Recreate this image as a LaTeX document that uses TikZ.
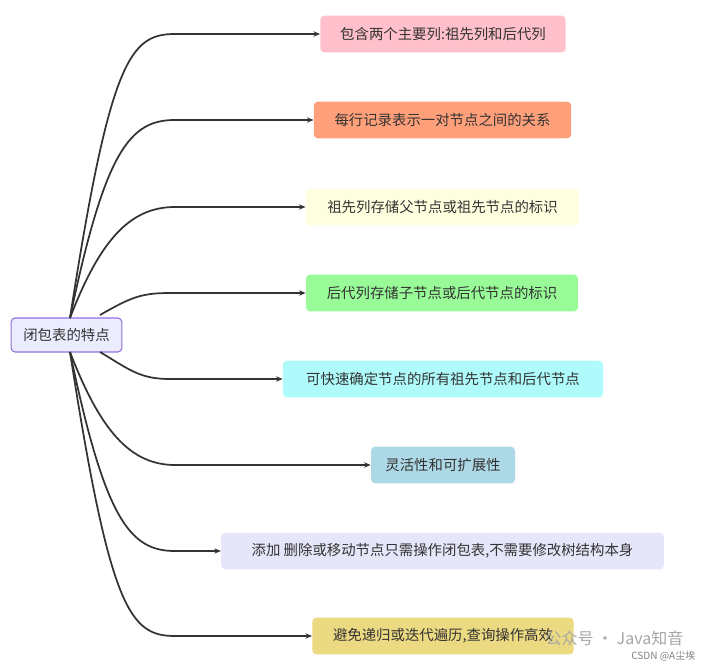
\documentclass[tikz,border=0pt]{standalone}
\usepackage{fontspec}
\setmainfont{Noto Sans CJK SC}
\usetikzlibrary{arrows.meta}
\definecolor{txt}{HTML}{333333}
\begin{document}
\begin{tikzpicture}[x=0.75pt,y=-0.75pt,
  box/.style={draw=none,rounded corners=3pt,minimum height=27.5pt,inner xsep=6pt,text=txt,font=\fontsize{10.8pt}{12pt}\selectfont,anchor=center},
  link/.style={draw=txt,line width=1.3pt,-{Stealth[length=5pt,width=4pt]}}]
\useasboundingbox (0,0) rectangle (708,667);
\node[box,draw={rgb,255:red,147;green,112;blue,219},fill={rgb,255:red,236;green,236;blue,255},minimum height=25.5pt,minimum width=83pt,line width=0.8pt] (root) at (66.5,335) {闭包表的特点};
\node[box,fill={rgb,255:red,255;green,192;blue,203},minimum width=184pt] (c1) at (443,34) {包含两个主要列:祖先列和后代列};
\node[box,fill={rgb,255:red,255;green,160;blue,122},minimum width=193pt] (c2) at (442.5,120) {每行记录表示一对节点之间的关系};
\node[box,fill={rgb,255:red,255;green,255;blue,224},minimum width=205pt] (c3) at (442.5,207) {祖先列存储父节点或祖先节点的标识};
\node[box,fill={rgb,255:red,152;green,251;blue,152},minimum width=204pt] (c4) at (442,293) {后代列存储子节点或后代节点的标识};
\node[box,fill={rgb,255:red,175;green,250;blue,250},minimum width=240pt] (c5) at (443,379) {可快速确定节点的所有祖先节点和后代节点};
\node[box,fill={rgb,255:red,173;green,216;blue,230},minimum width=108pt] (c6) at (443,465) {灵活性和可扩展性};
\node[box,fill={rgb,255:red,230;green,230;blue,250},minimum width=332pt] (c7) at (442.5,551) {添加 删除或移动节点只需操作闭包表,不需要修改树结构本身};
\node[box,fill={rgb,255:red,236;green,218;blue,130},minimum width=196pt] (c8) at (443,636) {避免递归或迭代遍历,查询操作高效};
\coordinate (s1) at (70,318);
\coordinate (s4) at (100,315);
\coordinate (s5) at (100,352);
\coordinate (s6) at (70,352);
\draw[link] (s1) .. controls (110,60) and (130,34) .. (175,34) -- (c1.west);
\draw[link] (s1) .. controls (105,150) and (130,120) .. (175,120) -- (c2.west);
\draw[link] (s1) .. controls (100,240) and (130,207) .. (175,207) -- (c3.west);
\draw[link] (s4) .. controls (130,298) and (140,293) .. (170,293) -- (c4.west);
\draw[link] (s5) .. controls (130,370) and (140,379) .. (170,379) -- (c5.west);
\draw[link] (s6) .. controls (100,430) and (130,465) .. (175,465) -- (c6.west);
\draw[link] (s6) .. controls (105,520) and (130,551) .. (175,551) -- (c7.west);
\draw[link] (s6) .. controls (110,610) and (130,636) .. (175,636) -- (c8.west);
\node[text=gray!70,font=\fontsize{12pt}{14pt}\selectfont,anchor=east] (wm) at (688,638) {公众号 · Java知音};
\node[text=gray,font=\fontsize{7.5pt}{9pt}\selectfont,anchor=east] (wm2) at (700,656) {CSDN @A尘埃};
\end{tikzpicture}
\end{document}
